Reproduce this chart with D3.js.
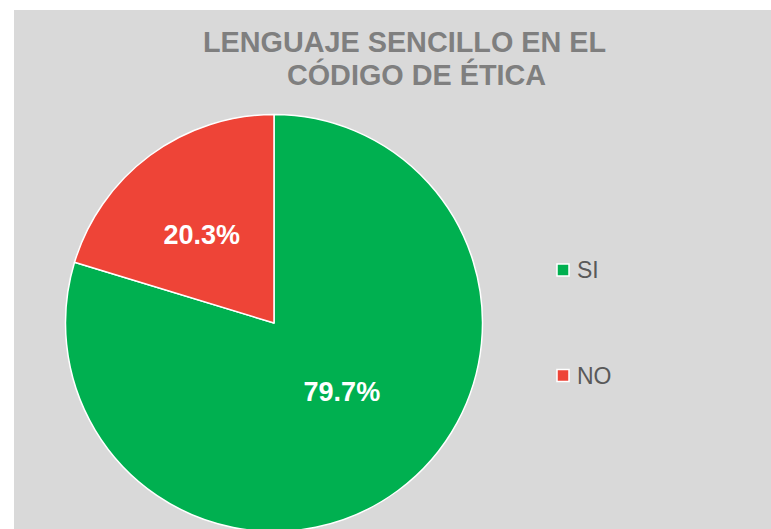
<!DOCTYPE html>
<html>
<head>
<meta charset="utf-8">
<script src="https://cdn.jsdelivr.net/npm/d3@7"></script>
<style>
  body { margin: 0; background: #fff; }
  svg { display: block; font-family: "Liberation Sans", Arial, sans-serif; }
</style>
</head>
<body>
<div id="chart"></div>
<script>
// data
var categories = ['SI', 'NO']
var values = [79.7, 20.3]
var colors = ['#00b050', '#ee4437']
var titleLines = ['LENGUAJE SENCILLO EN EL', 'CÓDIGO DE ÉTICA']

var width = 771
var height = 529

var svg = d3.select('#chart').append('svg')
    .attr('width', width)
    .attr('height', height)

// chart area background
svg.append('rect')
    .attr('x', 14)
    .attr('y', 10)
    .attr('width', width - 14)
    .attr('height', height - 10)
    .attr('fill', '#d9d9d9')

// title
var title = svg.append('text')
    .attr('text-anchor', 'middle')
    .attr('font-size', '28.8px')
    .attr('font-weight', 'bold')
    .attr('fill', '#7f7f7f')

title.selectAll('tspan')
    .data(titleLines)
  .enter().append('tspan')
    .attr('x', (d, i) => i == 0 ? 404.5 : 416.5)
    .attr('y', (d, i) => 52 + i * 33)
    .text(d => d)

var cx = 274
var cy = 323
var radius = 208.5

var pie = d3.pie().sort(null).value(d => d.value)
var data = categories.map((c, i) => ({name: c, value: values[i], color: colors[i]}))
var arcs = pie(data)

var arc = d3.arc().innerRadius(0).outerRadius(radius)

// label placement (fraction of radius, angle shift in degrees), like excel best fit
var labelRadius = [0.46, 0.55]
var labelShift = [-8.5, -2.5]

var g = svg.append('g')
    .attr('transform', 'translate(' + cx + ',' + cy + ')')

g.selectAll('.slice')
    .data(arcs)
  .enter().append('path')
    .attr('class', 'slice')
    .attr('d', arc)
    .attr('fill', d => d.data.color)
    .attr('stroke', '#fff')
    .attr('stroke-width', 1.5)
    .attr('stroke-linejoin', 'round')

g.selectAll('.label')
    .data(arcs)
  .enter().append('text')
    .attr('class', 'label')
    .attr('transform', (d, i) => {
      var r = radius * labelRadius[i]
      var a = (d.startAngle + d.endAngle) / 2 + labelShift[i] * Math.PI / 180
      return 'translate(' + (r * Math.sin(a)) + ',' + (-r * Math.cos(a)) + ')'
    })
    .attr('text-anchor', 'middle')
    .attr('dy', '0.36em')
    .attr('font-size', '27px')
    .attr('font-weight', 'bold')
    .attr('fill', '#fff')
    .text(d => d.data.value.toFixed(1) + '%')

// legend
var legendY = d3.scalePoint().domain(categories).range([270, 375.5])

var legend = svg.selectAll('.legend')
    .data(data)
  .enter().append('g')
    .attr('class', 'legend')
    .attr('transform', d => 'translate(557,' + legendY(d.name) + ')')

legend.append('rect')
    .attr('x', 0)
    .attr('y', -6)
    .attr('width', 12)
    .attr('height', 12)
    .attr('fill', d => d.color)
    .attr('stroke', '#fff')
    .attr('stroke-width', 1.5)

legend.append('text')
    .attr('x', 20)
    .attr('dy', '0.36em')
    .attr('font-size', '23px')
    .attr('fill', '#595959')
    .text(d => d.name)
</script>
</body>
</html>
